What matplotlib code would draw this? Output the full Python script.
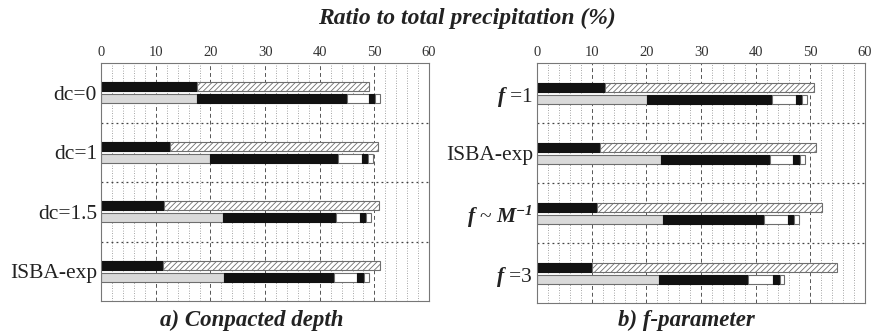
import matplotlib.pyplot as plt
import numpy as np

plt.rcParams["font.family"] = ["Liberation Serif", "DejaVu Serif"]
plt.rcParams["mathtext.fontset"] = "custom"
plt.rcParams["mathtext.rm"] = "Liberation Serif"
plt.rcParams["mathtext.it"] = "Liberation Serif:italic"
plt.rcParams["mathtext.bf"] = "Liberation Serif:bold"
plt.rcParams["mathtext.bfit"] = "Liberation Serif:italic:bold"
plt.rcParams["hatch.linewidth"] = 0.6

# panel a) compacted depth, groups top to bottom
labels_a = ["dc=0", "dc=1", "dc=1.5", "ISBA-exp"]
# top bar: black part, then hatched part (cumulative end values)
top_black_a = [17.6, 12.6, 11.5, 11.4]
top_hatch_a = [49.0, 50.6, 50.8, 51.0]
# bottom bar: gray, black, white, black, white (cumulative end values)
bot_gray_a = [17.5, 20.0, 22.3, 22.5]
bot_black_a = [44.9, 43.4, 42.9, 42.6]
bot_white_a = [49.0, 47.7, 47.3, 46.9]
bot_black2_a = [50.1, 48.9, 48.4, 48.1]
bot_white2_a = [51.0, 49.7, 49.4, 49.0]

# panel b) f-parameter
labels_b = [r"$\mathbfit{f}$ =1", "ISBA-exp",
            r"$\mathbfit{f}$ ~ $\mathbfit{M}^{\mathbfit{-1}}$", r"$\mathbfit{f}$ =3"]
top_black_b = [12.4, 11.5, 10.9, 10.1]
top_hatch_b = [50.7, 51.1, 52.1, 54.8]
bot_gray_b = [20.1, 22.6, 23.1, 22.3]
bot_black_b = [43.0, 42.6, 41.5, 38.6]
bot_white_b = [47.3, 46.9, 45.9, 43.2]
bot_black2_b = [48.4, 48.1, 47.0, 44.4]
bot_white2_b = [49.3, 49.0, 48.0, 45.2]

EDGE = "#6e6e6e"


def stacked(ax, y, ends, styles, h):
    start = np.zeros(len(y))
    for end, (fc, hatch) in zip(ends, styles):
        end = np.array(end)
        ax.barh(y, end - start, left=start, height=h, color=fc,
                edgecolor=EDGE if fc != "#111111" else "#111111",
                hatch=hatch, linewidth=0.8)
        start = end


def panel(ax, labels, tb, th, bg, bb, bw, bb2, bw2):
    y = np.arange(len(labels))[::-1].astype(float)
    stacked(ax, y + 0.1, [tb, th], [("#111111", None), ("white", "//////")], 0.15)
    stacked(ax, y - 0.1, [bg, bb, bw, bb2, bw2],
            [("#d9d9d9", None), ("#111111", None), ("white", None),
             ("#111111", None), ("white", None)], 0.15)
    ax.set_xlim(0, 60)
    ax.set_ylim(-0.5, len(labels) - 0.5)
    ax.set_yticks(y)
    ax.set_yticklabels(labels, fontsize=15.5)
    ax.xaxis.tick_top()
    ax.set_xticks(np.arange(0, 61, 10))
    ax.set_xticks(np.arange(0, 61, 2), minor=True)
    ax.tick_params(axis="both", which="both", length=0, pad=3)
    ax.tick_params(axis="x", labelsize=10.5, colors="#333333")
    ax.tick_params(axis="y", colors="#222222")
    for x in range(10, 60, 10):
        ax.axvline(x, color="#555555", linestyle=(0, (4, 3)), linewidth=0.7, zorder=0)
    for x in range(2, 60, 2):
        if x % 10:
            ax.axvline(x, color="#888888", linestyle=(0, (1, 2)), linewidth=0.6, zorder=0)
    for yy in [0.5, 1.5, 2.5]:
        ax.axhline(yy, color="#444444", linestyle=(0, (1.5, 2.5)), linewidth=0.9, zorder=0)
    for s in ax.spines.values():
        s.set_color("#777777")
        s.set_linewidth(0.8)


fig = plt.figure(figsize=(8.72, 3.36), dpi=100)
ax1 = fig.add_axes([0.116, 0.104, 0.376, 0.708])
ax2 = fig.add_axes([0.616, 0.098, 0.376, 0.714])
panel(ax1, labels_a, top_black_a, top_hatch_a, bot_gray_a, bot_black_a,
      bot_white_a, bot_black2_a, bot_white2_a)
panel(ax2, labels_b, top_black_b, top_hatch_b, bot_gray_b, bot_black_b,
      bot_white_b, bot_black2_b, bot_white2_b)

fig.text(0.535, 0.945, "Ratio to total precipitation (%)", ha="center", va="center",
         fontsize=17, fontweight="bold", fontstyle="italic", color="#222222")
fig.text(0.289, 0.045, "a) Conpacted depth", ha="center", va="center",
         fontsize=16.5, fontweight="bold", fontstyle="italic", color="#222222")
fig.text(0.787, 0.045, "b) f-parameter", ha="center", va="center",
         fontsize=16.5, fontweight="bold", fontstyle="italic", color="#222222")

plt.savefig("out.png", dpi=100)
